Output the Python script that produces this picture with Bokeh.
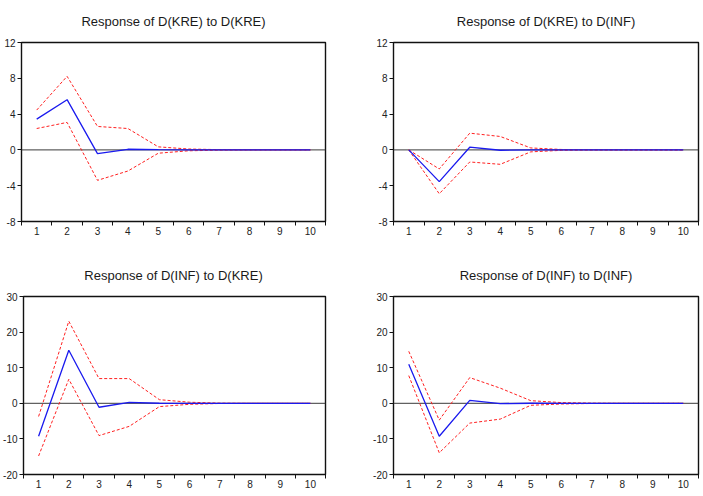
from bokeh.plotting import figure
from bokeh.layouts import column, row
from bokeh.models import FixedTicker, Span, Range1d, Label
from bokeh.embed import file_html
from bokeh.resources import INLINE

FONT = "Liberation Sans"

# Impulse responses (10 periods) with +/- 2 S.E. bands
periods = [1, 2, 3, 4, 5, 6, 7, 8, 9, 10]

kre_kre_resp = [3.44, 5.61, -0.41, 0.07, 0.02, 0.00, 0.00, 0.00, 0.00, 0.00]
kre_kre_upper = [4.45, 8.22, 2.62, 2.39, 0.34, 0.10, 0.03, 0.01, 0.00, 0.00]
kre_kre_lower = [2.39, 3.07, -3.40, -2.36, -0.37, -0.10, -0.03, -0.01, 0.00, 0.00]

kre_inf_resp = [0.00, -3.55, 0.30, -0.04, 0.01, 0.00, 0.00, 0.00, 0.00, 0.00]
kre_inf_upper = [0.00, -2.13, 1.87, 1.50, 0.22, 0.05, 0.01, 0.00, 0.00, 0.00]
kre_inf_lower = [0.00, -4.90, -1.35, -1.61, -0.22, -0.05, -0.01, 0.00, 0.00, 0.00]

inf_kre_resp = [-9.26, 14.90, -1.11, 0.28, 0.02, 0.00, 0.00, 0.00, 0.00, 0.00]
inf_kre_upper = [-3.70, 23.06, 6.94, 6.94, 1.02, 0.30, 0.05, 0.01, 0.00, 0.00]
inf_kre_lower = [-14.80, 6.76, -9.07, -6.48, -0.93, -0.28, -0.05, -0.01, 0.00, 0.00]

inf_inf_resp = [11.00, -9.26, 0.83, -0.09, 0.01, 0.00, 0.00, 0.00, 0.00, 0.00]
inf_inf_upper = [14.60, -4.72, 7.22, 4.26, 0.74, 0.20, 0.05, 0.01, 0.00, 0.00]
inf_inf_lower = [7.78, -13.90, -5.56, -4.44, -0.56, -0.20, -0.05, -0.01, 0.00, 0.00]

kre_ticks = [-8, -4, 0, 4, 8, 12]
inf_ticks = [-20, -10, 0, 10, 20, 30]


def heading(text, width, height, left, right, baseline_from_top):
    """Thin strip carrying a panel's heading, centred over that panel's frame."""
    h = figure(width=width, height=height, output_backend="svg", toolbar_location=None,
               x_range=Range1d(0, width), y_range=Range1d(0, height),
               x_axis_location=None, y_axis_location=None, min_border=0,
               outline_line_color=None, background_fill_color="white",
               border_fill_color="white")
    h.grid.visible = False
    h.add_layout(Label(x=left + (width - left - right) / 2, y=height - baseline_from_top,
                       text=text, text_align="center", text_baseline="alphabetic",
                       text_font=FONT, text_font_size="13px", text_color="#1a1a1a"))
    return h


def panel(resp, upper, lower, y_ticks, width, height, left, right, top, bottom):
    p = figure(width=width, height=height, output_backend="svg", toolbar_location=None,
               x_range=Range1d(periods[0] - 0.5, periods[-1] + 0.5),
               y_range=Range1d(y_ticks[0], y_ticks[-1]),
               min_border_left=left, min_border_right=right,
               min_border_top=top, min_border_bottom=bottom,
               background_fill_color="white", border_fill_color="white")
    p.grid.visible = False
    p.outline_line_color = "#111111"
    p.outline_line_width = 1.4
    p.outline_line_alpha = 1.0

    # x axis: labels at each period, tick marks between periods
    p.xaxis.ticker = FixedTicker(ticks=periods,
                                 minor_ticks=[k - 0.5 for k in periods] + [periods[-1] + 0.5])
    p.xaxis.major_tick_line_color = None
    p.xaxis.major_tick_out = 0
    p.xaxis.major_tick_in = 0
    p.xaxis.minor_tick_out = 4
    p.xaxis.minor_tick_in = 0
    p.xaxis.minor_tick_line_color = "#111111"
    p.xaxis.axis_line_color = None
    p.xaxis.major_label_standoff = 1

    # y axis: plain hyphen for negative labels
    p.yaxis.ticker = FixedTicker(ticks=y_ticks, minor_ticks=[])
    p.yaxis.major_label_overrides = {t: str(t) for t in y_ticks}
    p.yaxis.major_tick_out = 4
    p.yaxis.major_tick_in = 0
    p.yaxis.major_tick_line_color = "#111111"
    p.yaxis.minor_tick_line_color = None
    p.yaxis.axis_line_color = None
    p.yaxis.major_label_standoff = 2

    for ax in (p.xaxis, p.yaxis):
        ax.major_label_text_font = FONT
        ax.major_label_text_font_size = "10px"
        ax.major_label_text_color = "#222222"

    p.add_layout(Span(location=0, dimension="width", line_color="#3a3a3a",
                      line_width=1, level="underlay"))
    p.line(periods, upper, line_color="#ff2020", line_width=1, line_dash="3 2")
    p.line(periods, lower, line_color="#ff2020", line_width=1, line_dash="3 2")
    p.line(periods, resp, line_color="#1a1aee", line_width=1.3)
    return p


t1 = heading("Response of D(KRE) to D(KRE)", 340, 30, 21, 15, 20.5)
t2 = heading("Response of D(KRE) to D(INF)", 363, 30, 53, 5, 20.5)
p1 = panel(kre_kre_resp, kre_kre_upper, kre_kre_lower, kre_ticks, 340, 216, 21, 15, 12, 25)
p2 = panel(kre_inf_resp, kre_inf_upper, kre_inf_lower, kre_ticks, 363, 216, 53, 5, 12, 25)

t3 = heading("Response of D(INF) to D(KRE)", 340, 40, 21, 15, 28.5)
t4 = heading("Response of D(INF) to D(INF)", 363, 40, 53, 5, 28.5)
p3 = panel(inf_kre_resp, inf_kre_upper, inf_kre_lower, inf_ticks, 340, 210, 21, 15, 10, 22)
p4 = panel(inf_inf_resp, inf_inf_upper, inf_inf_lower, inf_ticks, 363, 210, 53, 5, 10, 22)

layout = column(row(t1, t2), row(p1, p2), row(t3, t4), row(p3, p4))

open("out.html", "w").write(file_html(layout, INLINE))
